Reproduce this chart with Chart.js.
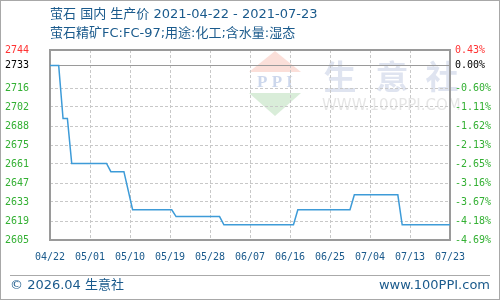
<!DOCTYPE html>
<html><head><meta charset="utf-8">
<script src="https://cdn.jsdelivr.net/npm/chart.js@4"></script>
<style>html,body{margin:0;padding:0;background:#fff}#wrap{width:500px;height:300px;position:relative}</style>
</head><body><div id="wrap"><canvas id="c" width="500" height="300"></canvas></div>
<script>
// ---- data ----
const titleText = '萤石 国内 生产价 2021-04-22 - 2021-07-23';
const subtitleText = '萤石精矿FC:FC-97;用途:化工;含水量:湿态';
const footerLeft = '© 2026.04 生意社';
const footerRight = 'www.100PPI.com';
const startDate = '2021-04-22';
const endDate = '2021-07-23';
const pointDates = ['2021-04-22','2021-04-24','2021-04-25','2021-04-26','2021-04-27','2021-05-05','2021-05-06','2021-05-09','2021-05-11','2021-05-20','2021-05-21','2021-05-31','2021-06-01','2021-06-17','2021-06-18','2021-06-30','2021-07-01','2021-07-11','2021-07-12','2021-07-23'];
const prices = [2733,2733,2694,2694,2661,2661,2655,2655,2627,2627,2622,2622,2616,2616,2627,2627,2638,2638,2616,2616];
const basePrice = 2733;
const yMin = 2604.8, yMax = 2744.3;
const leftTickLabels = ['2605','2619','2633','2647','2661','2675','2688','2702','2716','2733','2744'];
const rightTickLabels = ['-4.69%','-4.18%','-3.67%','-3.16%','-2.65%','-2.13%','-1.62%','-1.11%','-0.60%','0.00%','0.43%'];
const xTickLabels = ['04/22','05/01','05/10','05/19','05/28','06/07','06/16','06/25','07/04','07/13','07/23'];

// ---- helpers ----
const DAY = 86400000;
const dayOf = s => Math.round((Date.parse(s) - Date.parse(startDate)) / DAY);
const totalDays = dayOf(endDate);
const points = pointDates.map((d, i) => ({ x: dayOf(d), y: prices[i] }));

const BLUE = '#1a5a8c';
const GREEN = '#33b033';
const RED = '#ff3333';
const GRID = '#c8c8c8';
const FRAME = '#9a9a9a';
const tickColor = i => i === 10 ? RED : (i === 9 ? '#000' : GREEN);
const monoFont = { family: '"DejaVu Sans Mono", "Liberation Mono", monospace', size: 10 };

const decor = {
  id: 'decor',
  beforeDraw(chart) {
    const ctx = chart.ctx;
    ctx.save();
    ctx.fillStyle = '#fff';
    ctx.fillRect(0, 0, 500, 300);
    // watermark logo
    ctx.fillStyle = 'rgba(240,140,120,0.28)';
    ctx.beginPath(); ctx.moveTo(275, 51); ctx.lineTo(301, 72); ctx.lineTo(249, 72); ctx.closePath(); ctx.fill();
    ctx.fillStyle = 'rgba(120,190,120,0.28)';
    ctx.beginPath(); ctx.moveTo(249, 93); ctx.lineTo(301, 93); ctx.lineTo(275, 116); ctx.closePath(); ctx.fill();
    ctx.fillStyle = 'rgba(110,140,200,0.35)';
    ctx.font = 'bold 17px "Liberation Serif", serif';
    ctx.textAlign = 'center'; ctx.textBaseline = 'middle';
    ctx.fillText('P P I', 275, 83);
    ctx.fillStyle = 'rgba(150,165,205,0.3)';
    ctx.font = 'bold 33px "Noto Sans CJK SC", sans-serif';
    ctx.fillText('生', 340, 76);
    ctx.fillText('意', 392, 76);
    ctx.fillText('社', 442, 76);
    ctx.fillStyle = 'rgba(170,170,170,0.3)';
    ctx.font = '15px "DejaVu Sans", sans-serif';
    ctx.textAlign = 'left';
    ctx.fillText('WWW.100PPI.COM', 322, 106);
    ctx.restore();
  },
  beforeDatasetsDraw(chart) {
    const ctx = chart.ctx, a = chart.chartArea;
    const y = chart.scales.y;
    ctx.save();
    // base line
    const by = Math.round(y.getPixelForValue(basePrice)) + 0.5;
    ctx.strokeStyle = FRAME; ctx.lineWidth = 1;
    ctx.beginPath(); ctx.moveTo(a.left, by); ctx.lineTo(a.right, by); ctx.stroke();
    // frame
    ctx.lineWidth = 2;
    ctx.strokeRect(a.left, a.top, a.right - a.left, a.bottom - a.top);
    ctx.restore();
  },
  afterDraw(chart) {
    const ctx = chart.ctx;
    ctx.save();
    ctx.fillStyle = BLUE;
    ctx.textBaseline = 'middle'; ctx.textAlign = 'left';
    ctx.font = '13px "DejaVu Sans", "Noto Sans CJK SC", sans-serif';
    ctx.fillText(titleText, 50, 15);
    ctx.fillText(subtitleText, 50, 34);
    // footer
    ctx.strokeStyle = '#aaa'; ctx.lineWidth = 1;
    ctx.beginPath(); ctx.moveTo(10, 275.5); ctx.lineTo(490, 275.5); ctx.stroke();
    ctx.font = '13px "DejaVu Sans", "Noto Sans CJK SC", sans-serif';
    ctx.fillText(footerLeft, 10, 286);
    ctx.textAlign = 'right';
    ctx.fillText(footerRight, 490, 286);
    // outer frame
    ctx.strokeStyle = '#a8a8a8';
    ctx.strokeRect(0.5, 0.5, 499, 299);
    ctx.restore();
  }
};

new Chart(document.getElementById('c'), {
  type: 'line',
  data: { datasets: [{ data: points, borderColor: '#3d9bd8', borderWidth: 1.5, pointRadius: 0, tension: 0, fill: false }] },
  options: {
    responsive: false, animation: false,
    layout: { padding: { left: 5, right: 5, top: 50, bottom: 25 } },
    plugins: { legend: { display: false }, tooltip: { enabled: false } },
    scales: {
      x: {
        type: 'linear', min: 0, max: totalDays,
        afterBuildTicks: s => { s.ticks = xTickLabels.map((_, i) => ({ value: i * totalDays / (xTickLabels.length - 1) })); },
        afterFit: s => { s.height = 35; },
        ticks: { callback: (v, i) => xTickLabels[i], color: BLUE, font: monoFont, padding: 11, maxRotation: 0, autoSkip: false },
        grid: { drawTicks: false, color: c => (c.index === 0 || c.index === xTickLabels.length - 1) ? 'rgba(0,0,0,0)' : GRID },
        border: { display: false, dash: [3, 2] }
      },
      y: {
        type: 'linear', position: 'left', min: yMin, max: yMax,
        afterBuildTicks: s => { const t = []; for (let k = 0; k < 9; k++) t.push({ value: yMin + k * (yMax - yMin) / 10 }); t.push({ value: basePrice }); t.push({ value: yMax }); s.ticks = t; },
        afterFit: s => { s.width = 45; },
        ticks: { callback: (v, i) => leftTickLabels[i], color: c => tickColor(c.index), font: monoFont, crossAlign: 'far', padding: 4, autoSkip: false },
        grid: { drawTicks: false, color: c => (c.index === 0 || c.index >= 9) ? 'rgba(0,0,0,0)' : GRID },
        border: { display: false, dash: [3, 2] }
      },
      y2: {
        type: 'linear', position: 'right', min: yMin, max: yMax,
        afterBuildTicks: s => { const t = []; for (let k = 0; k < 9; k++) t.push({ value: yMin + k * (yMax - yMin) / 10 }); t.push({ value: basePrice }); t.push({ value: yMax }); s.ticks = t; },
        afterFit: s => { s.width = 45; },
        ticks: { callback: (v, i) => rightTickLabels[i], color: c => tickColor(c.index), font: monoFont, padding: 5, autoSkip: false },
        grid: { display: false, drawTicks: false },
        border: { display: false }
      }
    }
  },
  plugins: [decor]
});
</script>
</body></html>
